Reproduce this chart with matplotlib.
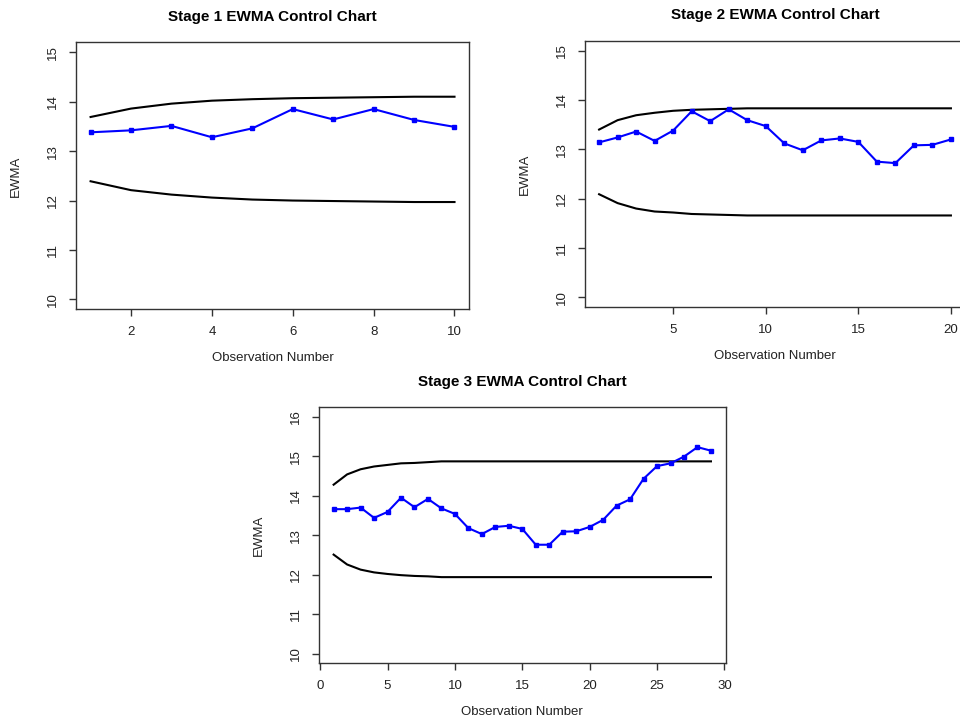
import numpy as np
import matplotlib
matplotlib.use("Agg")
import matplotlib.pyplot as plt

plt.rcParams['font.family'] = ['Liberation Sans', 'DejaVu Sans']

# values
ewma1 = [13.38, 13.42, 13.51, 13.28, 13.46, 13.85, 13.64, 13.85, 13.63, 13.49]
ucl1 = [13.69, 13.86, 13.96, 14.02, 14.05, 14.07, 14.08, 14.09, 14.10, 14.10]
lcl1 = [12.39, 12.21, 12.12, 12.06, 12.02, 12.00, 11.99, 11.98, 11.97, 11.97]

ewma2 = [13.14, 13.24, 13.36, 13.17, 13.38, 13.77, 13.57, 13.81, 13.59, 13.47,
         13.12, 12.98, 13.18, 13.22, 13.15, 12.75, 12.72, 13.08, 13.09, 13.20]
ucl2 = [13.40, 13.59, 13.69, 13.74, 13.78, 13.80, 13.81, 13.82, 13.83, 13.83,
        13.83, 13.83, 13.83, 13.83, 13.83, 13.83, 13.83, 13.83, 13.83, 13.83]
lcl2 = [12.09, 11.91, 11.80, 11.74, 11.72, 11.69, 11.68, 11.67, 11.66, 11.66,
        11.66, 11.66, 11.66, 11.66, 11.66, 11.66, 11.66, 11.66, 11.66, 11.66]

ewma3 = [13.66, 13.66, 13.70, 13.44, 13.59, 13.95, 13.71, 13.92, 13.68, 13.54,
         13.18, 13.03, 13.21, 13.24, 13.16, 12.76, 12.76, 13.09, 13.10, 13.21,
         13.39, 13.75, 13.91, 14.43, 14.75, 14.82, 14.99, 15.23, 15.14]
ucl3 = [14.28, 14.54, 14.67, 14.74, 14.78, 14.82, 14.83, 14.85, 14.87] + [14.87] * 20
lcl3 = [12.51, 12.26, 12.13, 12.06, 12.02, 11.99, 11.97, 11.96, 11.94] + [11.94] * 20

titles = ["Stage 1 EWMA Control Chart", "Stage 2 EWMA Control Chart", "Stage 3 EWMA Control Chart"]

fig = plt.figure(figsize=(9.6, 7.2), dpi=100)
ax1 = fig.add_axes([0.0792, 0.5704, 0.4094, 0.3708])
ax2 = fig.add_axes([0.6094, 0.5732, 0.3958, 0.3703])
ax3 = fig.add_axes([0.3318, 0.0788, 0.4245, 0.3556])

panels = [
    (ax1, ewma1, ucl1, lcl1, [2, 4, 6, 8, 10], [10, 11, 12, 13, 14, 15], (9.8, 15.2)),
    (ax2, ewma2, ucl2, lcl2, [5, 10, 15, 20], [10, 11, 12, 13, 14, 15], (9.8, 15.2)),
    (ax3, ewma3, ucl3, lcl3, [0, 5, 10, 15, 20, 25, 30], [10, 11, 12, 13, 14, 15, 16], (9.76, 16.24)),
]

for i, (ax, ew, ucl, lcl, xt, yt, ylim) in enumerate(panels):
    obs = np.arange(1, len(ew) + 1)
    ax.plot(obs, ucl, color='black', lw=1.5)
    ax.plot(obs, lcl, color='black', lw=1.5)
    ax.plot(obs, ew, color='#0000ff', lw=1.5, marker='s', ms=3.2)
    n = len(ew)
    if i == 2:
        ax.set_xlim(-0.12, 30.12)
    else:
        ext = (n - 1) * 0.04
        ax.set_xlim(1 - ext, n + ext)
    ax.set_ylim(*ylim)
    ax.set_xticks(xt)
    ax.set_yticks(yt)
    for s in ax.spines.values():
        s.set_color('#333333')
        s.set_linewidth(1.0)
    ax.tick_params(direction='out', length=5, width=1, color='#333333',
                   labelsize=9.5, labelcolor='#222222', pad=7)
    for lab in ax.get_yticklabels():
        lab.set_rotation(90)
        lab.set_va('center')
    ax.set_title(titles[i], fontsize=11, fontweight='bold', pad=15.5)
    ax.set_xlabel("Observation Number", fontsize=9.5, labelpad=10, color='#222222')
    ax.set_ylabel("EWMA", fontsize=9.5, labelpad=18, color='#222222')

fig.savefig("out.png", dpi=100)
